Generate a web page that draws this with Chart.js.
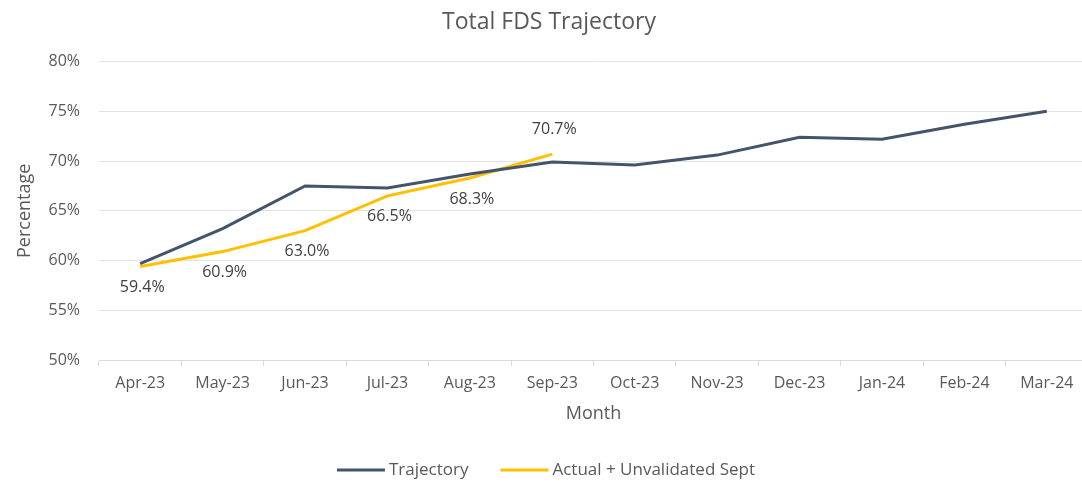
<!DOCTYPE html>
<html>
<head>
<meta charset="utf-8">
<script src="https://cdn.jsdelivr.net/npm/chart.js@4.4.0/dist/chart.umd.min.js"></script>
<style>
  html, body { margin: 0; padding: 0; background: #fff; overflow: hidden; }
  #wrap { width: 1082px; height: 485px; overflow: hidden; }
</style>
</head>
<body>
<div id="wrap"><canvas id="chart" width="1090" height="485"></canvas></div>
<script>
// Data
const months = ['Apr-23', 'May-23', 'Jun-23', 'Jul-23', 'Aug-23', 'Sep-23', 'Oct-23', 'Nov-23', 'Dec-23', 'Jan-24', 'Feb-24', 'Mar-24'];
const trajectory = [59.7, 63.2, 67.5, 67.3, 68.7, 69.9, 69.6, 70.6, 72.4, 72.2, 73.7, 75.0];
const actual = [59.4, 60.9, 63.0, 66.5, 68.3, 70.7, null, null, null, null, null, null];
const yTicks = [50, 55, 60, 65, 70, 75, 80];

const textColor = '#595959';
const fontFamily = '"Open Sans", Lato, sans-serif';

// Data labels for the actual series
const actualLabels = {
    id: 'actualLabels',
    afterDatasetsDraw(chart) {
        const ctx = chart.ctx;
        const meta = chart.getDatasetMeta(1);
        let lastIdx = -1;
        actual.forEach((v, i) => { if (v !== null) lastIdx = i; });
        ctx.save();
        ctx.font = '16px ' + fontFamily;
        ctx.fillStyle = '#404040';
        ctx.textAlign = 'center';
        ctx.textBaseline = 'middle';
        meta.data.forEach((pt, i) => {
            const v = actual[i];
            if (v === null) return;
            // last point is labelled above, the rest below
            const dy = i === lastIdx ? -25 : 21;
            ctx.fillText(v.toFixed(1) + '%', pt.x + 2, pt.y + dy);
        });
        ctx.restore();
    }
};

// Legend drawn by hand (line swatch + text), centred under the chart
const lineLegend = {
    id: 'lineLegend',
    afterDraw(chart) {
        const ctx = chart.ctx;
        const y = 470, swatch = 48, gap = 4, itemGap = 32, centre = 546;
        ctx.save();
        ctx.font = '17px ' + fontFamily;
        ctx.textBaseline = 'middle';
        const items = chart.data.datasets.map(ds => ({
            text: ds.label, color: ds.borderColor, w: ctx.measureText(ds.label).width
        }));
        let total = items.reduce((s, it) => s + swatch + gap + it.w, 0) + itemGap * (items.length - 1);
        let x = centre - total / 2;
        items.forEach(it => {
            ctx.strokeStyle = it.color;
            ctx.lineWidth = 3;
            ctx.beginPath();
            ctx.moveTo(x, y);
            ctx.lineTo(x + swatch, y);
            ctx.stroke();
            x += swatch + gap;
            ctx.fillStyle = textColor;
            ctx.fillText(it.text, x, y);
            x += it.w + itemGap;
        });
        ctx.restore();
    }
};

const ctx = document.getElementById('chart').getContext('2d');
const chart = new Chart(ctx, {
    type: 'line',
    data: {
        labels: months,
        datasets: [{
            label: 'Trajectory',
            data: trajectory,
            borderColor: '#44546A',
            backgroundColor: '#44546A',
            borderWidth: 3,
            pointRadius: 0,
            tension: 0
        }, {
            label: 'Actual + Unvalidated Sept',
            data: actual,
            borderColor: '#FFC000',
            backgroundColor: '#FFC000',
            borderWidth: 3,
            pointRadius: 0,
            tension: 0
        }]
    },
    options: {
        responsive: false,
        animation: false,
        layout: { padding: { left: 10, right: 2, top: 4, bottom: 60 } },
        plugins: {
            title: {
                display: true,
                text: 'Total FDS Trajectory',
                color: textColor,
                font: { family: fontFamily, size: 23, weight: 'normal' },
                padding: { top: 5, bottom: 25 }
            },
            legend: { display: false },
            tooltip: { enabled: false }
        },
        scales: {
            x: {
                offset: true,
                afterFit(scale) { scale.height = 65; },
                grid: {
                    offset: true,
                    drawOnChartArea: false,
                    drawTicks: true,
                    tickLength: 6,
                    color: '#D9D9D9'
                },
                border: { display: true, color: '#D9D9D9' },
                ticks: {
                    color: textColor,
                    font: { family: fontFamily, size: 16 },
                    maxRotation: 0,
                    autoSkip: false,
                    padding: 8
                },
                title: {
                    display: true,
                    text: 'Month',
                    color: textColor,
                    font: { family: fontFamily, size: 18 },
                    padding: { top: 0, bottom: 0 }
                }
            },
            y: {
                min: 50,
                max: 80,
                afterFit(scale) { scale.width = 89; },
                afterBuildTicks(scale) {
                    scale.ticks = yTicks.map(v => ({ value: v }));
                },
                grid: { color: '#E3E3E3', drawTicks: false },
                border: { display: false },
                ticks: {
                    color: textColor,
                    font: { family: fontFamily, size: 16 },
                    padding: 19,
                    callback: v => v + '%'
                },
                title: {
                    display: true,
                    text: 'Percentage',
                    color: textColor,
                    font: { family: fontFamily, size: 18 },
                    padding: { top: 4, bottom: 0 }
                }
            }
        }
    },
    plugins: [actualLabels, lineLegend]
});
</script>
</body>
</html>
